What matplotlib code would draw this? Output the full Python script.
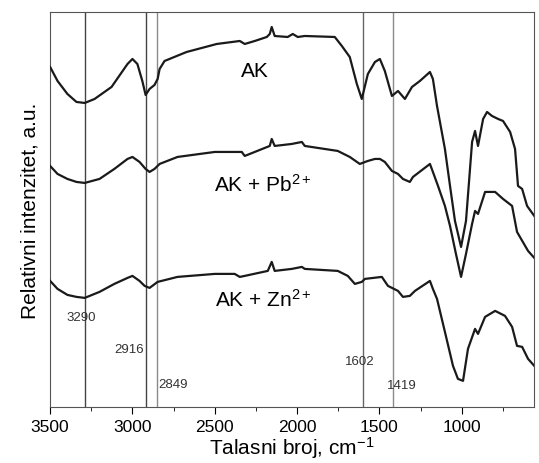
import numpy as np
import matplotlib.pyplot as plt
from matplotlib.ticker import MultipleLocator

plt.rcParams['font.family'] = ['Liberation Sans', 'DejaVu Sans']
plt.rcParams['mathtext.fontset'] = 'custom'
plt.rcParams['mathtext.rm'] = 'Liberation Sans'
plt.rcParams['mathtext.it'] = 'Liberation Sans'
plt.rcParams['mathtext.default'] = 'regular'

# wavenumbers (cm-1) and relative intensity
wn_ak = [3500, 3455, 3395, 3340, 3290, 3230, 3127, 3030, 3000, 2970, 2940, 2920, 2896,
         2866, 2847, 2835, 2805, 2671, 2488, 2348, 2318, 2257, 2184, 2166, 2154, 2136,
         2057, 2026, 1996, 1953, 1771, 1728, 1680, 1637, 1607, 1570, 1527, 1497, 1467,
         1424, 1387, 1345, 1302, 1254, 1193, 1175, 1150, 1102, 1071, 1041, 1004, 974,
         937, 919, 901, 870, 846, 816, 779, 749, 706, 676, 658, 633, 603, 555]
ak = [340, 326, 313, 305, 304, 308, 320, 343, 348, 343, 326, 312, 318,
      322, 328, 338, 346, 355, 363, 366, 363, 366, 370, 373, 380, 371,
      370, 373, 370, 371, 370, 361, 350, 323, 308, 333, 345, 348, 336,
      311, 316, 308, 320, 326, 335, 328, 301, 258, 221, 186, 160, 186,
      265, 276, 261, 288, 295, 291, 288, 286, 275, 258, 221, 218, 201, 190]

wn_pb = [3500, 3455, 3395, 3340, 3290, 3200, 3110, 3030, 3000, 2957, 2920, 2896, 2866,
         2835, 2726, 2500, 2336, 2318, 2257, 2166, 2154, 2136, 2032, 1971, 1953, 1753,
         1680, 1619, 1570, 1527, 1497, 1467, 1424, 1387, 1357, 1315, 1296, 1193, 1175,
         1144, 1102, 1071, 1035, 1004, 974, 937, 919, 901, 858, 797, 749, 694, 664, 597, 543]
pb = [241, 233, 228, 225, 224, 228, 238, 248, 250, 245, 238, 235, 238,
      243, 250, 255, 255, 251, 255, 261, 268, 261, 263, 265, 261, 256,
      250, 243, 246, 248, 248, 245, 236, 233, 228, 225, 230, 243, 235,
      221, 201, 181, 153, 130, 153, 183, 196, 193, 215, 215, 208, 201, 175, 156, 146]

wn_zn = [3500, 3455, 3395, 3340, 3290, 3200, 3110, 3030, 3000, 2957, 2926, 2896, 2847,
         2726, 2500, 2379, 2348, 2318, 2178, 2154, 2136, 2032, 1971, 1953, 1753, 1692,
         1649, 1607, 1588, 1485, 1448, 1387, 1357, 1315, 1284, 1193, 1175, 1150, 1102,
         1053, 1023, 992, 962, 919, 901, 858, 797, 737, 694, 664, 633, 597, 543]
zn = [126, 118, 112, 110, 109, 115, 123, 129, 131, 126, 121, 119, 125,
      130, 133, 133, 130, 131, 136, 145, 136, 138, 140, 138, 136, 131,
      123, 125, 128, 130, 121, 116, 110, 111, 116, 126, 118, 108, 75,
      41, 28, 26, 58, 78, 73, 90, 96, 91, 80, 61, 60, 48, 38]

peaks = [3290, 2916, 2849, 1602, 1419]
peak_colors = ['#444444', '#444444', '#8a8a8a', '#666666', '#8a8a8a']
peak_label_pos = [(3310, 90), (3018, 58), (2755, 23), (1618, 46), (1363, 22)]

fig = plt.figure(figsize=(5.39, 4.64), dpi=100)
ax = fig.add_axes([0.093, 0.121, 0.898, 0.851])

for p, c in zip(peaks, peak_colors):
    ax.axvline(p, color=c, lw=1.0, zorder=1)
for p, (x, y) in zip(peaks, peak_label_pos):
    ax.text(x, y, str(p), fontsize=9.5, color='#333333', ha='center', va='center')

for x, y in [(wn_ak, ak), (wn_pb, pb), (wn_zn, zn)]:
    ax.plot(x, y, color='#1a1a1a', lw=1.6, zorder=3)

ax.text(2257, 336, 'AK', fontsize=15, ha='center', va='center')
ax.text(2208, 223, 'AK + Pb$^{2+}$', fontsize=15, ha='center', va='center')
ax.text(2208, 108, 'AK + Zn$^{2+}$', fontsize=15, ha='center', va='center')

ax.set_xlim(3500, 560)
ax.set_ylim(0, 395)
ax.set_yticks([])
ax.xaxis.set_major_locator(MultipleLocator(500))
ax.xaxis.set_minor_locator(MultipleLocator(250))
ax.tick_params(axis='x', which='major', direction='out', length=5, labelsize=12.5)
ax.tick_params(axis='x', which='minor', direction='out', length=3)
for s in ax.spines.values():
    s.set_color('#555555')
ax.set_xlabel('Talasni broj, cm$^{-1}$', fontsize=15, labelpad=0)
ax.set_ylabel('Relativni intenzitet, a.u.', fontsize=15, labelpad=8)

fig.savefig('out.png', dpi=100)
